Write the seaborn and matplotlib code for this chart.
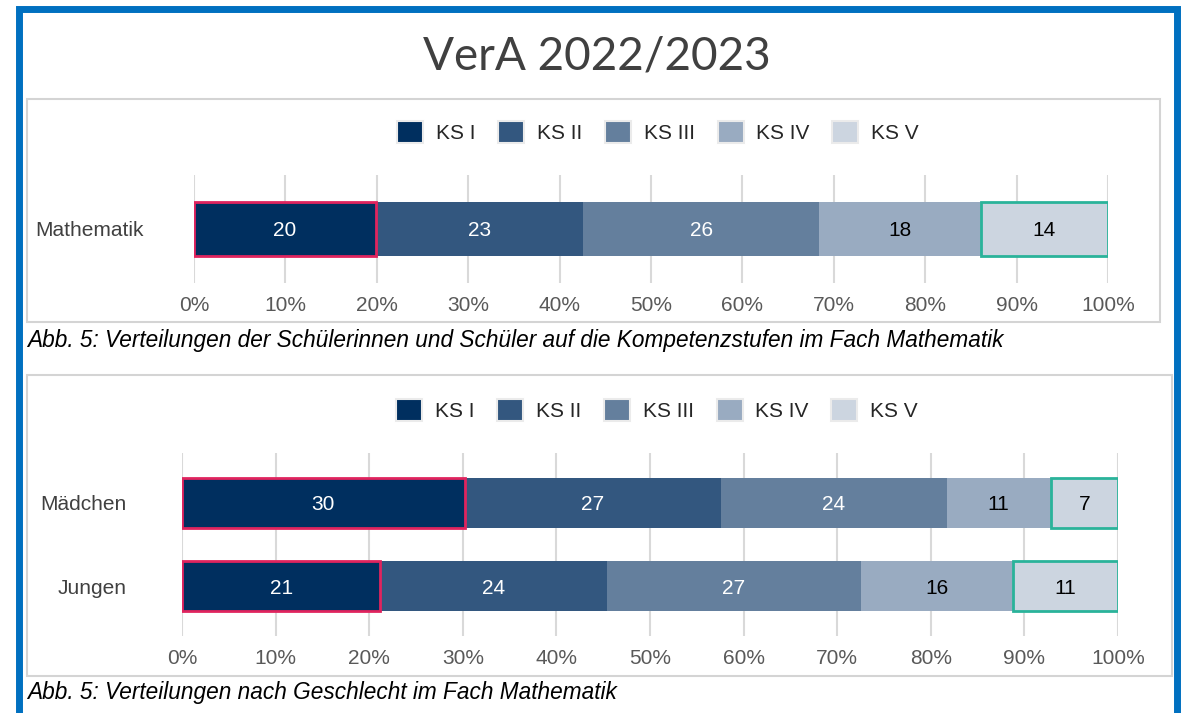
import matplotlib
matplotlib.use("Agg")
import matplotlib.pyplot as plt
import matplotlib.patches as mpatches
import numpy as np
import pandas as pd
import seaborn as sns

# data (segment widths in %, labels as printed)
levels = ["KS I", "KS II", "KS III", "KS IV", "KS V"]
colors = ["#002F5F", "#33577F", "#647F9D", "#99ABC1", "#CCD5E0"]
text_colors = ["white", "white", "white", "black", "black"]

cats_total = ["Mathematik"]
total_widths = [[19.9], [22.7], [25.8], [17.7], [13.9]]
total_labels = [[20], [23], [26], [18], [14]]

cats_gender = ["Mädchen", "Jungen"]
gender_widths = [[30.2, 21.2], [27.4, 24.2], [24.1, 27.1], [11.1, 16.3], [7.2, 11.2]]
gender_labels = [[30, 21], [27, 24], [24, 27], [11, 16], [7, 11]]

ticks = np.arange(0, 101, 10)
tick_labels = [f"{t}%" for t in ticks]

sns.set_theme(style="white")
plt.rcParams["font.family"] = ["Liberation Sans", "DejaVu Sans"]

W, H = 1182, 713
fig = plt.figure(figsize=(W / 100, H / 100), dpi=100)


def fbox(x0, y0, x1, y1):
    # pixel box -> figure fraction [left, bottom, width, height]
    return [x0 / W, 1 - y1 / H, (x1 - x0) / W, (y1 - y0) / H]


def stacked(ax, cats, widths, labels, bar_h, ypad):
    df = pd.DataFrame(widths, index=levels, columns=cats).T
    cum = df.cumsum(axis=1)
    # draw from the longest cumulative bar down so each level sits on top
    for i in range(len(levels) - 1, -1, -1):
        sub = pd.DataFrame({"cat": cats, "val": cum[levels[i]].values})
        edge = "#E0245E" if i == 0 else colors[i]
        lw = 2 if i == 0 else 0
        sns.barplot(data=sub, x="val", y="cat", orient="h", color=colors[i],
                    saturation=1, width=bar_h, errorbar=None, ax=ax,
                    edgecolor=edge, linewidth=lw, zorder=3)
    # teal frame around KS V
    ax.barh(np.arange(len(cats)), df[levels[-1]].values, left=cum[levels[-2]].values,
            height=bar_h, fill=False, edgecolor="#2AB39A", linewidth=2, zorder=4)
    for i, lev in enumerate(levels):
        starts = cum[lev].values - df[lev].values
        for j in range(len(cats)):
            ax.text(starts[j] + df[lev].values[j] / 2, j, str(labels[i][j]),
                    ha="center", va="center_baseline", fontsize=15,
                    color=text_colors[i], zorder=5)
    ax.set_xlim(0, 100)
    ax.set_xticks(ticks)
    ax.set_xticklabels(tick_labels)
    ax.xaxis.grid(True, color="#D9D9D9", linewidth=1.5, zorder=0)
    ax.set_axisbelow(True)
    for s in ax.spines.values():
        s.set_visible(False)
    ax.tick_params(axis="x", length=0, pad=9, labelsize=15, labelcolor="#595959")
    ax.tick_params(axis="y", length=0, pad=ypad, labelsize=15, labelcolor="#404040")
    for t in ax.get_yticklabels():
        t.set_verticalalignment("center_baseline")
    ax.set_xlabel("")
    ax.set_ylabel("")


def legend(cx, cy):
    handles = [mpatches.Patch(facecolor=c, edgecolor="#EBEBEB", linewidth=1.5, label=l)
               for c, l in zip(colors, levels)]
    fig.legend(handles=handles, loc="center", bbox_to_anchor=(cx / W, 1 - cy / H),
               ncol=5, frameon=False, fontsize=15, handlelength=1.25, handleheight=1.25,
               handletextpad=0.6, columnspacing=1.1)


# outer blue frame and panel frames
fig.patches.append(mpatches.Rectangle((19 / W, 1 - 740 / H), 1157.5 / W, 731.5 / H,
                                      transform=fig.transFigure, fill=False,
                                      edgecolor="#0070C0", linewidth=5))
fig.patches.append(mpatches.Rectangle((27 / W, 1 - 322 / H), 1133 / W, 223 / H,
                                      transform=fig.transFigure, fill=False,
                                      edgecolor="#D4D4D4", linewidth=1.5))
fig.patches.append(mpatches.Rectangle((27 / W, 1 - 676 / H), 1145 / W, 301 / H,
                                      transform=fig.transFigure, fill=False,
                                      edgecolor="#D4D4D4", linewidth=1.5))

fig.text(597 / W, 1 - 57 / H, "VerA 2022/2023", ha="center", va="center",
         fontsize=33, color="#404040", family=["Lato", "DejaVu Sans"])

ax1 = fig.add_axes(fbox(194, 175, 1108, 283))
stacked(ax1, cats_total, total_widths, total_labels, 0.5, 36)
ax1.set_ylim(0.5, -0.5)
legend(658, 132)

ax2 = fig.add_axes(fbox(182, 453, 1118, 636))
stacked(ax2, cats_gender, gender_widths, gender_labels, 0.61, 40)
ax2.set_ylim(1.6, -0.6)
legend(657, 410)

fig.text(27 / W, 1 - 341 / H,
         "Abb. 5: Verteilungen der Schülerinnen und Schüler auf die Kompetenzstufen im Fach Mathematik",
         ha="left", va="center", fontsize=16.3, style="italic", color="black")
fig.text(27 / W, 1 - 692 / H, "Abb. 5: Verteilungen nach Geschlecht im Fach Mathematik",
         ha="left", va="center", fontsize=16.3, style="italic", color="black")

fig.savefig("out.png", dpi=100)
